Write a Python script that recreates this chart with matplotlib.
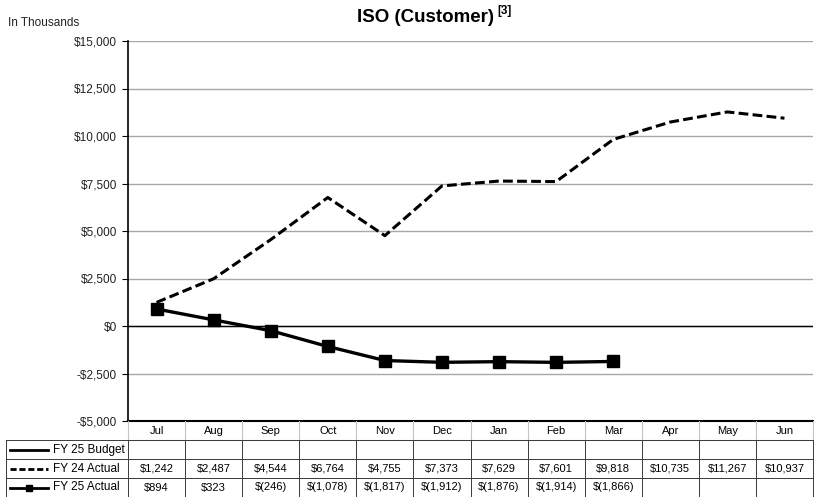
import numpy as np
import matplotlib.pyplot as plt
from matplotlib.lines import Line2D

plt.rcParams['font.family'] = ['Liberation Sans', 'DejaVu Sans']

# Data
months = ["Jul", "Aug", "Sep", "Oct", "Nov", "Dec", "Jan", "Feb", "Mar", "Apr", "May", "Jun"]
series_names = ["FY 25 Budget", "FY 24 Actual", "FY 25 Actual"]
fy25_budget = [None] * 12
fy24_actual = [1242, 2487, 4544, 6764, 4755, 7373, 7629, 7601, 9818, 10735, 11267, 10937]
fy25_actual = [894, 323, -246, -1078, -1817, -1912, -1876, -1914, -1866]
yticks = [-5000, -2500, 0, 2500, 5000, 7500, 10000, 12500, 15000]


def money(v):
    if v is None:
        return ""
    if v < 0:
        return "$({:,})".format(-v)
    return "${:,}".format(v)


def tick_fmt(v):
    if v < 0:
        return "-${:,}".format(int(-v))
    return "${:,}".format(int(v))


W, H = 814, 497
fig = plt.figure(figsize=(W / 100, H / 100), dpi=100)

x0, x1, ytop, ybot = 128, 813, 41, 421
ax = fig.add_axes([x0 / W, (H - ybot) / H, (x1 - x0) / W, (ybot - ytop) / H])
x = np.arange(len(months))

ax.set_xlim(-0.5, 11.5)
ax.set_ylim(-5000, 15000)
ax.set_yticks(yticks)
ax.set_yticklabels([tick_fmt(v) for v in yticks], fontsize=8.5, color="#222222")
ax.set_xticks([])
ax.grid(axis="y", color="#a8a8a8", lw=1)
ax.set_axisbelow(True)
ax.axhline(0, color="black", lw=1)
for s in ["top", "right"]:
    ax.spines[s].set_visible(False)
ax.spines["left"].set_linewidth(1.2)
ax.spines["bottom"].set_linewidth(1.5)
ax.tick_params(axis="y", length=4, width=0.8, pad=4)

dash = (3.2, 1.4)
ax.plot(x, fy24_actual, color="black", lw=2.2, linestyle=(0, dash))
ax.plot(x[:len(fy25_actual)], fy25_actual, color="black", lw=2.4,
        marker="s", markersize=8.5)

# title with superscript note
t = fig.text(357 / W, 1 - 17 / H, "ISO (Customer)", ha="left", va="center",
             fontsize=13.5, fontweight="bold")
fig.canvas.draw()
bb = t.get_window_extent(fig.canvas.get_renderer())
fig.text((bb.x1 + 3) / W, 1 - 11 / H, "[3]", ha="left", va="center",
         fontsize=8.5, fontweight="bold")
fig.text(8 / W, 1 - 23 / H, "In Thousands", ha="left", va="center", fontsize=8.5,
         color="#222222")

# Table below the chart
colw = (x1 - x0) / 12
lab_left = -0.5 - (x0 - 6) / colw
tax = fig.add_axes([6 / W, 0, (x1 - 6) / W, (H - ybot) / H])
tax.set_xlim(lab_left, 11.5)
tax.set_ylim(4, 0)
tax.axis("off")

edge = "#3a3a3a"
light = "#c4c4c4"
# header
for i in range(13):
    tax.plot([i - 0.5, i - 0.5], [0, 1], color=light, lw=0.8, clip_on=False)
tax.plot([-0.5, 11.5], [1, 1], color=light, lw=0.8, clip_on=False)
for i, m in enumerate(months):
    tax.text(i, 0.5, m, ha="center", va="center", fontsize=8)
# body grid
for r in range(1, 5):
    tax.plot([lab_left, 11.5], [r, r], color=edge, lw=0.7, clip_on=False)
for xv in [lab_left] + [i - 0.5 for i in range(13)]:
    tax.plot([xv, xv], [1, 4], color=edge, lw=0.7, clip_on=False)

rows = [fy25_budget, fy24_actual, fy25_actual]
styles = [dict(linestyle="-", marker=None), dict(linestyle=(0, (2.2, 1.0)), marker=None),
          dict(linestyle="-", marker="s")]
for r, (name, vals, st) in enumerate(zip(series_names, rows, styles)):
    yc = r + 1.5
    tax.add_line(Line2D([lab_left + 4 / colw, lab_left + 42 / colw], [yc, yc], color="black",
                        lw=2.0, linestyle=st["linestyle"], clip_on=False))
    if st["marker"]:
        tax.plot([lab_left + 23 / colw], [yc], marker="s", color="black", markersize=5,
                 clip_on=False)
    tax.text(lab_left + 47 / colw, yc, name, ha="left", va="center", fontsize=8.5)
    for i in range(12):
        v = vals[i] if i < len(vals) else None
        tax.text(i, yc, money(v), ha="center", va="center", fontsize=8)

fig.savefig("out.png", dpi=100)
